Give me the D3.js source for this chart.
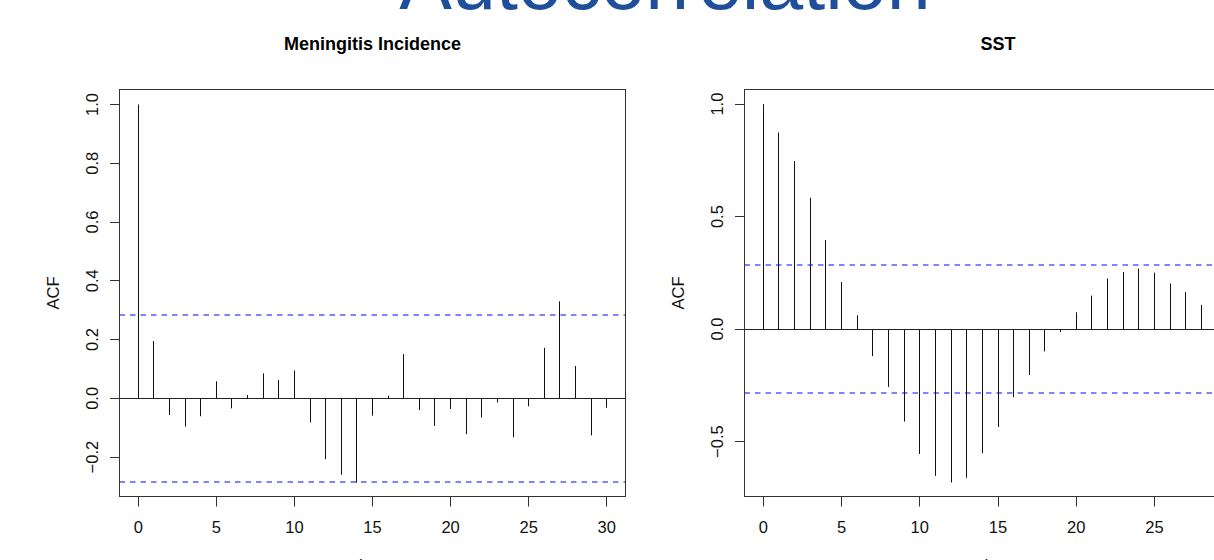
<!DOCTYPE html>
<html>
<head>
<meta charset="utf-8">
<script src="https://cdn.jsdelivr.net/npm/d3@7"></script>
<style>
  html, body { margin: 0; padding: 0; background: #fff; }
  svg { display: block; font-family: "Liberation Sans", Arial, Helvetica, sans-serif; }
</style>
</head>
<body>
<svg id="chart" width="1214" height="560"></svg>
<script>
// ---- data ----
const mainTitle = "Autocorrelation";
const panelTitles = ["Meningitis Incidence", "SST"];
const yLabel = "ACF";
const xLabel = "Lag";

const menLags = [0,1,2,3,4,5,6,7,8,9,10,11,12,13,14,15,16,17,18,19,20,21,22,23,24,25,26,27,28,29,30];
const menACF  = [1.0, 0.195, -0.057, -0.096, -0.061, 0.058, -0.034, 0.011, 0.085, 0.063, 0.095,
                 -0.082, -0.207, -0.260, -0.287, -0.059, 0.009, 0.151, -0.040, -0.094, -0.036,
                 -0.122, -0.065, -0.014, -0.133, -0.027, 0.172, 0.330, 0.110, -0.126, -0.032];

const sstLags = [0,1,2,3,4,5,6,7,8,9,10,11,12,13,14,15,16,17,18,19,20,21,22,23,24,25,26,27,28];
const sstACF  = [1.0, 0.874, 0.747, 0.584, 0.396, 0.209, 0.062, -0.120, -0.257, -0.411, -0.555,
                 -0.652, -0.682, -0.661, -0.552, -0.435, -0.303, -0.204, -0.099, -0.013, 0.075,
                 0.149, 0.225, 0.254, 0.269, 0.251, 0.203, 0.164, 0.108];

const confBound = 0.283;

const menYTicks = [-0.2, 0.0, 0.2, 0.4, 0.6, 0.8, 1.0];
const sstYTicks = [-0.5, 0.0, 0.5, 1.0];
const menXTicks = [0, 5, 10, 15, 20, 25, 30];
const sstXTicks = [0, 5, 10, 15, 20, 25];

const menYLim = [-0.334, 1.051];
const sstYLim = [-0.744, 1.065];
const xLim = [-1.2, 31.2];

// ---- drawing ----
const svg = d3.select("#chart");
const fmt = d3.format(".1f");
const FS = 16.5;
const snap = v => Math.round(v - 0.5) + 0.5;

svg.append("text")
  .attr("x", 665).attr("y", 9)
  .attr("text-anchor", "middle")
  .attr("fill", "#1f4e9b")
  .style("font-size", "79px")
  .text(mainTitle);

function panel(opts) {
  const { left, right, top, bottom, lags, acf, yLim, yTicks, xTicks, title } = opts;
  const x = d3.scaleLinear().domain(xLim).range([left, right]);
  const y = d3.scaleLinear().domain(yLim).range([bottom, top]);
  const g = svg.append("g");

  const clipId = "clip" + Math.round(left);
  svg.append("clipPath").attr("id", clipId)
    .append("rect").attr("x", left).attr("y", top).attr("width", right - left).attr("height", bottom - top);
  const inner = g.append("g").attr("clip-path", `url(#${clipId})`);

  // zero line
  inner.append("line")
    .attr("x1", left).attr("x2", right)
    .attr("y1", snap(y(0))).attr("y2", snap(y(0)))
    .attr("stroke", "#222").attr("stroke-width", 1);

  // confidence bounds
  inner.selectAll("line.ci")
    .data([confBound, -confBound]).join("line")
    .attr("class", "ci")
    .attr("x1", left).attr("x2", right)
    .attr("y1", d => Math.round(y(d))).attr("y2", d => Math.round(y(d)))
    .attr("stroke", "#5a5aff").attr("stroke-width", 1.6)
    .attr("stroke-dasharray", "5.5,5");

  // spikes
  inner.selectAll("line.spike")
    .data(lags.map((l, i) => ({ lag: l, v: acf[i] })))
    .join("line")
    .attr("class", "spike")
    .attr("x1", d => snap(x(d.lag))).attr("x2", d => snap(x(d.lag)))
    .attr("y1", snap(y(0))).attr("y2", d => y(d.v))
    .attr("stroke", "#111").attr("stroke-width", 1);

  // box
  g.append("rect")
    .attr("x", left).attr("y", top)
    .attr("width", right - left).attr("height", bottom - top)
    .attr("fill", "none").attr("stroke", "#333").attr("stroke-width", 1);

  // y axis
  const yAxis = d3.axisLeft(y).tickValues(yTicks).tickSize(9.5).tickFormat(() => "");
  const ya = g.append("g").attr("transform", `translate(${left},0)`).call(yAxis);
  ya.select(".domain").remove();
  ya.selectAll(".tick").attr("transform", d => `translate(0,${snap(y(d))})`);
  ya.selectAll(".tick line").attr("stroke", "#333");
  g.selectAll("text.ytick")
    .data(yTicks).join("text")
    .attr("class", "ytick")
    .attr("transform", d => `translate(${left - 27},${y(d)}) rotate(-90)`)
    .attr("dy", "0.36em")
    .attr("text-anchor", "middle")
    .style("font-size", FS + "px")
    .attr("fill", "#111")
    .text(d => fmt(d));

  // x axis
  const xAxis = d3.axisBottom(x).tickValues(xTicks).tickSize(10).tickFormat(() => "");
  const xa = g.append("g").attr("transform", `translate(0,${bottom})`).call(xAxis);
  xa.select(".domain").remove();
  xa.selectAll(".tick").attr("transform", d => `translate(${snap(x(d))},0)`);
  xa.selectAll(".tick line").attr("stroke", "#333");
  g.selectAll("text.xtick")
    .data(xTicks).join("text")
    .attr("class", "xtick")
    .attr("x", d => x(d)).attr("y", 527)
    .attr("dy", "0.36em")
    .attr("text-anchor", "middle")
    .style("font-size", FS + "px")
    .attr("fill", "#111")
    .text(d => d);

  // labels
  g.append("text")
    .attr("transform", `translate(${left - 66},${(top + bottom) / 2}) rotate(-90)`)
    .attr("dy", "0.36em")
    .attr("text-anchor", "middle")
    .style("font-size", FS + "px")
    .attr("fill", "#111")
    .text(yLabel);

  g.append("text")
    .attr("x", (left + right) / 2).attr("y", 571)
    .attr("text-anchor", "middle")
    .style("font-size", FS + "px")
    .attr("fill", "#111")
    .text(xLabel);

  g.append("text")
    .attr("x", (left + right) / 2).attr("y", 50)
    .attr("text-anchor", "middle")
    .style("font-size", "18px")
    .style("font-weight", "bold")
    .attr("fill", "#000")
    .text(title);
}

panel({ left: 119.5, right: 625.5, top: 89.5, bottom: 496.5,
        lags: menLags, acf: menACF, yLim: menYLim, yTicks: menYTicks, xTicks: menXTicks, title: panelTitles[0] });
panel({ left: 744.5, right: 1251.5, top: 89.5, bottom: 496.5,
        lags: sstLags, acf: sstACF, yLim: sstYLim, yTicks: sstYTicks, xTicks: sstXTicks, title: panelTitles[1] });
</script>
</body>
</html>
